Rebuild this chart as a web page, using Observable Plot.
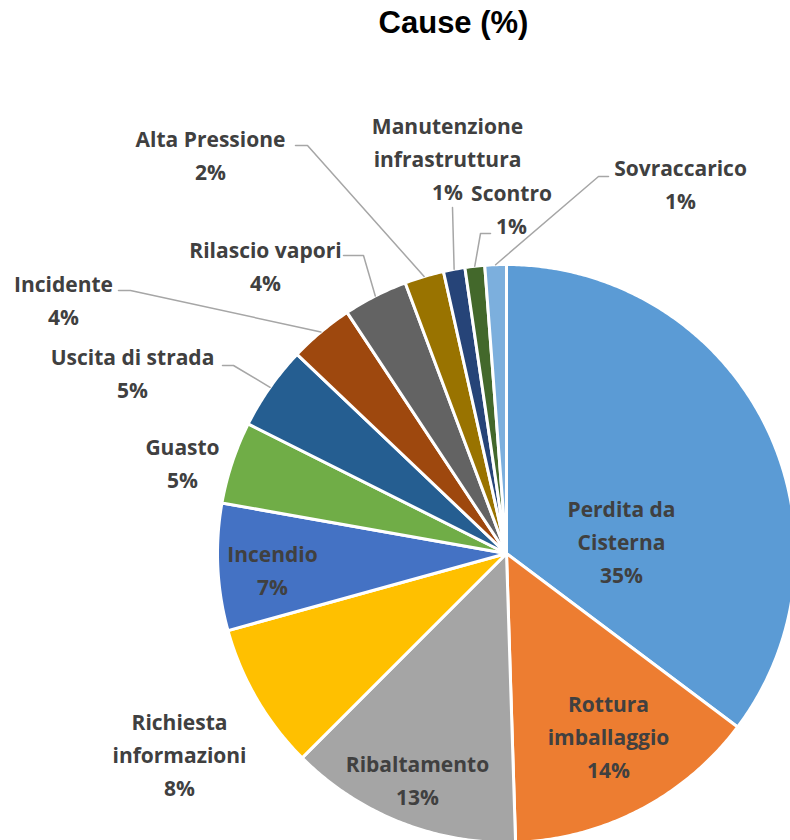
<!DOCTYPE html>
<html>
<head>
<meta charset="utf-8">
<script src="https://cdn.jsdelivr.net/npm/d3@7"></script>
<script src="https://cdn.jsdelivr.net/npm/@observablehq/plot@0.6"></script>
<style>
  html, body { margin: 0; padding: 0; background: #ffffff; }
  #chart { width: 790px; height: 840px; }
</style>
</head>
<body>
<div id="chart"></div>
<script>
// ---- data ----
const categories = ["Perdita da Cisterna", "Rottura imballaggio", "Ribaltamento", "Richiesta informazioni", "Incendio", "Guasto", "Uscita di strada", "Incidente", "Rilascio vapori", "Alta Pressione", "Manutenzione infrastruttura", "Scontro", "Sovraccarico"];
const values = [35.25, 14.25, 13.0, 8.2, 7.1, 4.6, 4.7, 3.6, 3.6, 2.2, 1.2, 1.1, 1.2];
const labelLines = ["Perdita da\nCisterna", "Rottura\nimballaggio", "Ribaltamento", "Richiesta\ninformazioni", "Incendio", "Guasto", "Uscita di strada", "Incidente", "Rilascio vapori", "Alta Pressione", "Manutenzione\ninfrastruttura", "Scontro", "Sovraccarico"];
const colors = ["#5B9BD5", "#ED7D31", "#A5A5A5", "#FFC000", "#4472C4", "#70AD47", "#255E91", "#9E480E", "#636363", "#997300", "#264478", "#43682B", "#7CAFDD"];
const title = "Cause (%)";

// ---- layout (pixels, relative to the pie centre) ----
const W = 790, H = 840, CX = 506, CY = 553, R = 289;
const labelPos = [[115, -14], [102, 181], [-89, 224], [-327, 199], [-234, 14], [-324, -93], [-374, -183], [-443, -256], [-241, -290], [-296, -401], [-59, -397], [5, -347], [174, -372]];
// leader lines: [elbow, end] for outside labels (null = none)
const leaders = [null, null, null, null, null, null,
  [[-273, -188], [-284, -188]],
  [[-376, -263], [-388, -263]],
  [[-143, -298], [-163, -298]],
  [[-199, -408], [-211, -408]],
  [[-54, -346], [-54, -346]],
  [[-26, -320], [-16, -320]],
  [[92, -377], [102, -377]]];

// ---- geometry from data ----
const total = d3.sum(values);
let acc = 0;
const slices = categories.map((c, i) => {
  const a0 = acc / total * 2 * Math.PI;
  acc += values[i];
  const a1 = acc / total * 2 * Math.PI;
  return {c, i, a0, a1, mid: (a0 + a1) / 2};
});
const polyPts = slices.flatMap(s => {
  const n = Math.max(2, Math.ceil((s.a1 - s.a0) / (Math.PI / 360)));
  const pts = [{c: s.c, x: 0, y: 0}];
  for (let k = 0; k <= n; k++) {
    const a = s.a0 + (s.a1 - s.a0) * k / n;
    pts.push({c: s.c, x: Math.sin(a), y: Math.cos(a)});
  }
  return pts;
});
const toData = ([px, py]) => ({x: px / R, y: -py / R});
const labels = slices.map(s => {
  const p = toData(labelPos[s.i]);
  return {x: p.x, y: p.y, text: labelLines[s.i] + "\n" + Math.round(values[s.i]) + "%"};
});
const leaderPts = slices.flatMap(s => {
  const L = leaders[s.i];
  if (!L) return [];
  const start = {g: s.c, x: Math.sin(s.mid), y: Math.cos(s.mid)};
  const e = toData(L[0]), f = toData(L[1]);
  return [start, {g: s.c, ...e}, {g: s.c, ...f}];
});

const chart = Plot.plot({
  width: W,
  height: H,
  margin: 0,
  x: {domain: [-CX / R, (W - CX) / R], range: [0, W], axis: null},
  y: {domain: [-(H - CY) / R, CY / R], range: [H, 0], axis: null},
  color: {domain: categories, range: colors},
  marks: [
    Plot.line(polyPts, {x: "x", y: "y", z: "c", fill: "c", stroke: "white", strokeWidth: 3, strokeLinejoin: "round", curve: "linear-closed"}),
    Plot.line(leaderPts, {x: "x", y: "y", z: "g", stroke: "#A6A6A6", strokeWidth: 1.5}),
    Plot.text(labels, {x: "x", y: "y", text: "text", fill: "#404040", fontSize: 21, fontWeight: "bold", fontFamily: "Open Sans", lineHeight: 1.57, textAnchor: "middle", lineAnchor: "middle"}),
    Plot.text([title], {frameAnchor: "top", dx: 58, dy: 10, text: d => d, fill: "#000000", fontSize: 31, fontWeight: "bold", fontFamily: "Liberation Sans", lineAnchor: "top"})
  ]
});
document.getElementById("chart").appendChild(chart);
</script>
</body>
</html>
